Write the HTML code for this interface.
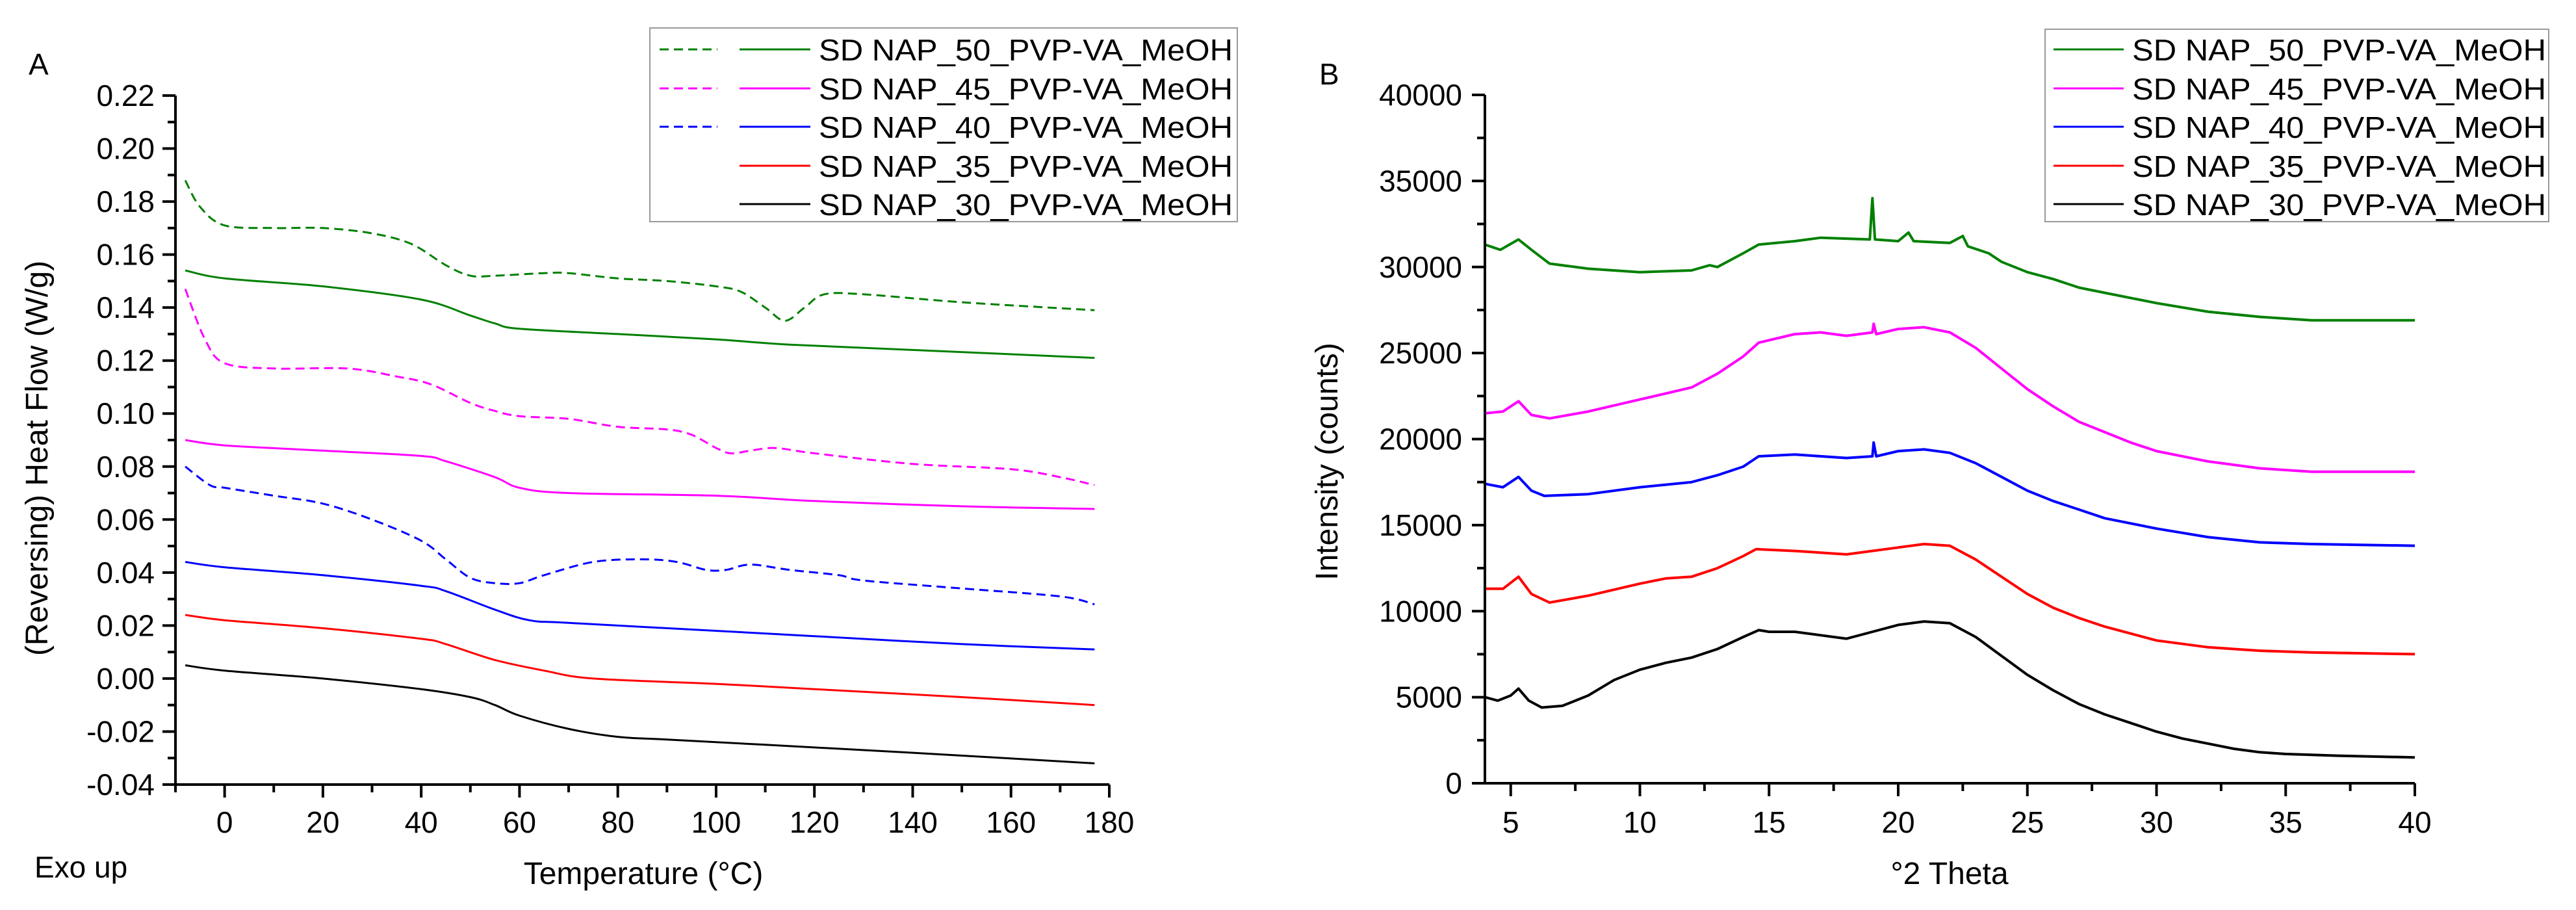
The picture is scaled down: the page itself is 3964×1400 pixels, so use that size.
<!DOCTYPE html>
<html><head><meta charset="utf-8"><style>
html,body{margin:0;padding:0;background:#fff;}
svg{display:block;font-family:"Liberation Sans",sans-serif;}
</style></head><body>
<svg id="fig" width="3964" height="1400" viewBox="0 0 3964 1400" xmlns="http://www.w3.org/2000/svg">
<rect x="0" y="0" width="3964" height="1400" fill="#fff"/>
<g id="pa"></g>
<g id="pb"></g>
</svg>
<script>
// ---- Panel A data (DSC) ----
const aLabels = ["SD NAP_50_PVP-VA_MeOH","SD NAP_45_PVP-VA_MeOH","SD NAP_40_PVP-VA_MeOH","SD NAP_35_PVP-VA_MeOH","SD NAP_30_PVP-VA_MeOH"];
const aColors = ["#008000","#ff00ff","#0000ff","#ff0000","#000000"];
const aXTicks = [0,20,40,60,80,100,120,140,160,180];
const aYTicks = [0.22,0.20,0.18,0.16,0.14,0.12,0.10,0.08,0.06,0.04,0.02,0.00,-0.02,-0.04];
const g50sT = [-8,0,20,40,50,55,60,80,100,115,140,177];
const g50sY = [0.154,0.151,0.148,0.143,0.137,0.134,0.132,0.130,0.128,0.126,0.124,0.121];
const g50dT = [-8,-5,0,10,20,30,38,45,50,55,65,70,80,90,100,105,110,114,118,122,130,150,177];
const g50dY = [0.188,0.178,0.171,0.170,0.170,0.168,0.164,0.156,0.152,0.152,0.153,0.153,0.151,0.150,0.148,0.146,0.140,0.135,0.140,0.145,0.145,0.142,0.139];
const m45dT = [-8,-4,0,10,25,35,42,50,55,60,70,80,90,95,100,103,107,112,120,140,160,170,177];
const m45dY = [0.147,0.128,0.119,0.117,0.117,0.114,0.111,0.104,0.101,0.099,0.098,0.095,0.094,0.092,0.087,0.085,0.086,0.087,0.085,0.081,0.079,0.076,0.073];
const m45sT = [-8,0,20,40,45,55,60,70,100,120,150,177];
const m45sY = [0.090,0.088,0.086,0.084,0.082,0.076,0.072,0.070,0.069,0.067,0.065,0.064];
const b40dT = [-8,-3,0,10,20,30,40,45,50,55,60,65,75,85,92,98,102,107,115,125,130,150,170,177];
const b40dY = [0.080,0.073,0.072,0.069,0.066,0.060,0.052,0.045,0.038,0.036,0.036,0.039,0.044,0.045,0.044,0.041,0.041,0.043,0.041,0.039,0.037,0.034,0.031,0.028];
const b40sT = [-8,0,20,40,45,55,62,70,100,120,150,177];
const b40sY = [0.044,0.042,0.039,0.035,0.033,0.026,0.022,0.021,0.018,0.016,0.013,0.011];
const r35T = [-8,0,20,40,45,55,65,75,100,120,150,177];
const r35Y = [0.024,0.022,0.019,0.015,0.013,0.007,0.003,0.000,-0.002,-0.004,-0.007,-0.010];
const k30T = [-8,0,20,40,50,55,60,70,80,90,110,140,177];
const k30Y = [0.005,0.003,0.000,-0.004,-0.007,-0.010,-0.014,-0.019,-0.022,-0.023,-0.025,-0.028,-0.032];

// ---- Panel B data (XRD) ----
const bLabels = aLabels;
const bXTicks = [5,10,15,20,25,30,35,40];
const bYTicks = [0,5000,10000,15000,20000,25000,30000,35000,40000];
const x50T = [4,4.6,5.3,5.8,6.5,8,10,12,12.7,13,14,14.6,16,17,18.9,19.0,19.1,20,20.4,20.6,22,22.5,22.7,23.5,24,25,26,27,28,29,30,32,34,36,40];
const x50I = [31300,31000,31600,31000,30200,29900,29700,29800,30100,30000,30800,31300,31500,31700,31600,34000,31600,31500,32000,31500,31400,31800,31200,30800,30300,29700,29300,28800,28500,28200,27900,27400,27100,26900,26900];
const x45T = [4,4.7,5.3,5.8,6.5,8,10,12,13,14,14.6,16,17,18,19,19.05,19.15,20,21,22,23,24,25,26,27,28,29,30,32,34,36,40];
const x45I = [21500,21600,22200,21400,21200,21600,22300,23000,23800,24800,25600,26100,26200,26000,26200,26700,26100,26400,26500,26200,25300,24100,22900,21900,21000,20400,19800,19300,18700,18300,18100,18100];
const x40T = [4,4.7,5.3,5.8,6.3,8,10,12,13,14,14.6,16,18,19,19.05,19.15,20,21,22,23,24,25,26,27,28,30,32,34,36,40];
const x40I = [17400,17200,17800,17000,16700,16800,17200,17500,17900,18400,19000,19100,18900,19000,19800,19000,19300,19400,19200,18600,17800,17000,16400,15900,15400,14800,14300,14000,13900,13800];
const x35T = [4,4.7,5.3,5.8,6.5,8,10,11,12,13,14,14.5,16,18,20,21,22,23,24,25,26,27,28,29,30,32,34,36,40];
const x35I = [11300,11300,12000,11000,10500,10900,11600,11900,12000,12500,13200,13600,13500,13300,13700,13900,13800,13000,12000,11000,10200,9600,9100,8700,8300,7900,7700,7600,7500];
const x30T = [4,4.5,5,5.3,5.7,6.2,7,8,9,10,11,12,13,14,14.6,15,16,17,18,19,20,21,22,23,24,25,26,27,28,29,30,31,32,33,34,35,37,40];
const x30I = [5000,4800,5100,5500,4800,4400,4500,5100,6000,6600,7000,7300,7800,8500,8900,8800,8800,8600,8400,8800,9200,9400,9300,8500,7400,6300,5400,4600,4000,3500,3000,2600,2300,2000,1800,1700,1600,1500];

const NS = "http://www.w3.org/2000/svg";
function el(parent, tag, attrs, text){
  const e = document.createElementNS(NS, tag);
  for (const k in attrs) e.setAttribute(k, attrs[k]);
  if (text !== undefined) e.textContent = text;
  parent.appendChild(e);
  return e;
}
function smoothPath(pts){
  let d = "M" + pts[0][0].toFixed(1) + "," + pts[0][1].toFixed(1);
  for (let i = 0; i < pts.length - 1; i++){
    const p0 = pts[Math.max(0,i-1)], p1 = pts[i], p2 = pts[i+1], p3 = pts[Math.min(pts.length-1,i+2)];
    const c1x = p1[0] + (p2[0]-p0[0])/6, c1y = p1[1] + (p2[1]-p0[1])/6;
    const c2x = p2[0] - (p3[0]-p1[0])/6, c2y = p2[1] - (p3[1]-p1[1])/6;
    d += " C" + c1x.toFixed(1)+","+c1y.toFixed(1)+" "+c2x.toFixed(1)+","+c2y.toFixed(1)+" "+p2[0].toFixed(1)+","+p2[1].toFixed(1);
  }
  return d;
}
function linePath(pts){
  return pts.map((p,i)=>(i?"L":"M")+p[0].toFixed(1)+","+p[1].toFixed(1)).join(" ");
}

// ===== Panel A =====
(function(){
  const g = document.getElementById("pa");
  const L = 270, R = 1707, T = 147, B = 1207;
  const xmin = -10, xmax = 180, ymin = -0.04, ymax = 0.22;
  const sx = v => L + (v - xmin) / (xmax - xmin) * (R - L);
  const sy = v => B - (v - ymin) / (ymax - ymin) * (B - T);

  const series = [
    [g50dT, g50dY, 0, true, "dsc-nap50-total"], [g50sT, g50sY, 0, false, "dsc-nap50-reversing"],
    [m45dT, m45dY, 1, true, "dsc-nap45-total"], [m45sT, m45sY, 1, false, "dsc-nap45-reversing"],
    [b40dT, b40dY, 2, true, "dsc-nap40-total"], [b40sT, b40sY, 2, false, "dsc-nap40-reversing"],
    [r35T, r35Y, 3, false, "dsc-nap35-reversing"], [k30T, k30Y, 4, false, "dsc-nap30-reversing"]
  ];
  series.forEach(s => {
    const pts = s[0].map((t,i)=>[sx(t), sy(s[1][i])]);
    const p = el(g, "path", {d: smoothPath(pts), fill:"none", stroke:aColors[s[2]], "stroke-width":3, "stroke-dasharray": s[3] ? "14,8" : "none"});
    
    
  });

  // axes
  const ax = el(g, "path", {d:`M${L},${T} L${L},${B} L${R},${B}`, fill:"none", stroke:"#000", "stroke-width":4});
  
  
  for (let v = -10; v <= 180; v += 10){
    const major = aXTicks.indexOf(v) >= 0;
    el(g, "line", {x1:sx(v), x2:sx(v), y1:B, y2:B + (major?20:12), stroke:"#000", "stroke-width":4});
  }
  aXTicks.forEach(v => {
    const t = el(g, "text", {x:sx(v), y:1281, "font-size":46, "text-anchor":"middle", fill:"#000"}, String(v));
    
    
  });
  for (let k = 0; k <= 26; k++){
    const v = ymin + k * 0.01;
    const major = k % 2 === 0;
    el(g, "line", {x1:L - (major?20:12), x2:L, y1:sy(v), y2:sy(v), stroke:"#000", "stroke-width":4});
  }
  aYTicks.forEach(v => {
    const t = el(g, "text", {x:238, y:sy(v)+16, "font-size":46, "text-anchor":"end", fill:"#000"}, v.toFixed(2));
    
    
  });

  // legend
  const lg = el(g, "g", {});
  
  
  el(lg, "rect", {x:1000, y:43, width:904, height:298, fill:"#fff", stroke:"#999", "stroke-width":2});
  const rows = [76,136,195,255,314];
  rows.forEach((y,i) => {
    if (i < 3) el(lg, "line", {x1:1015, x2:1104, y1:y, y2:y, stroke:aColors[i], "stroke-width":3, "stroke-dasharray":"14,8"});
    el(lg, "line", {x1:1138, x2:1247, y1:y, y2:y, stroke:aColors[i], "stroke-width":3});
    const t = el(lg, "text", {x:1260, y:y+17, "font-size":46, fill:"#000", textLength:637, lengthAdjust:"spacingAndGlyphs"}, aLabels[i]);
    
    
  });

  let t;
  t = el(g, "text", {x:44, y:115, "font-size":46, fill:"#000"}, "A");
   
  t = el(g, "text", {x:53, y:1350, "font-size":46, fill:"#000"}, "Exo up");
   
  t = el(g, "text", {x:990, y:1360, "font-size":48, "text-anchor":"middle", fill:"#000"}, "Temperature (°C)");
   
  t = el(g, "text", {x:0, y:0, "font-size":48, "text-anchor":"middle", fill:"#000", transform:"translate(73,705) rotate(-90)"}, "(Reversing) Heat Flow (W/g)");
   
})();

// ===== Panel B =====
(function(){
  const g = document.getElementById("pb");
  const L = 2285, R = 3716, T = 146, B = 1205;
  const xmin = 4, xmax = 40, ymin = 0, ymax = 40000;
  const sx = v => L + (v - xmin) / (xmax - xmin) * (R - L);
  const sy = v => B - (v - ymin) / (ymax - ymin) * (B - T);

  const series = [
    [x50T, x50I, 0, "xrd-nap50"], [x45T, x45I, 1, "xrd-nap45"], [x40T, x40I, 2, "xrd-nap40"],
    [x35T, x35I, 3, "xrd-nap35"], [x30T, x30I, 4, "xrd-nap30"]
  ];
  series.forEach(s => {
    const pts = s[0].map((t,i)=>[sx(t), sy(s[1][i])]);
    const p = el(g, "path", {d: linePath(pts), fill:"none", stroke:aColors[s[2]], "stroke-width":4, "stroke-linejoin":"round"});
    
    
  });

  const ax = el(g, "path", {d:`M${L},${T} L${L},${B} L${R},${B}`, fill:"none", stroke:"#000", "stroke-width":4});
  
  
  for (let v = 5; v <= 40; v += 2.5){
    const major = bXTicks.indexOf(v) >= 0;
    el(g, "line", {x1:sx(v), x2:sx(v), y1:B, y2:B + (major?20:12), stroke:"#000", "stroke-width":4});
  }
  bXTicks.forEach(v => {
    const t = el(g, "text", {x:sx(v), y:1281, "font-size":46, "text-anchor":"middle", fill:"#000"}, String(v));
    
    
  });
  for (let v = 0; v <= 40000; v += 2500){
    const major = v % 5000 === 0;
    el(g, "line", {x1:L - (major?20:12), x2:L, y1:sy(v), y2:sy(v), stroke:"#000", "stroke-width":4});
  }
  bYTicks.forEach(v => {
    const t = el(g, "text", {x:2250, y:sy(v)+16, "font-size":46, "text-anchor":"end", fill:"#000"}, String(v));
    
    
  });

  const lg = el(g, "g", {});
  
  
  el(lg, "rect", {x:3147, y:45, width:775, height:296, fill:"#fff", stroke:"#999", "stroke-width":2});
  const rows = [76,136,195,255,314];
  rows.forEach((y,i) => {
    el(lg, "line", {x1:3160, x2:3268, y1:y, y2:y, stroke:aColors[i], "stroke-width":3});
    const t = el(lg, "text", {x:3281, y:y+17, "font-size":46, fill:"#000", textLength:637, lengthAdjust:"spacingAndGlyphs"}, bLabels[i]);
    
    
  });

  let t;
  t = el(g, "text", {x:2030, y:130, "font-size":46, fill:"#000"}, "B");
   
  t = el(g, "text", {x:3000, y:1360, "font-size":48, "text-anchor":"middle", fill:"#000"}, "°2 Theta");
   
  t = el(g, "text", {x:0, y:0, "font-size":48, "text-anchor":"middle", fill:"#000", transform:"translate(2058,710) rotate(-90)"}, "Intensity (counts)");
   
})();
</script>
</body></html>
